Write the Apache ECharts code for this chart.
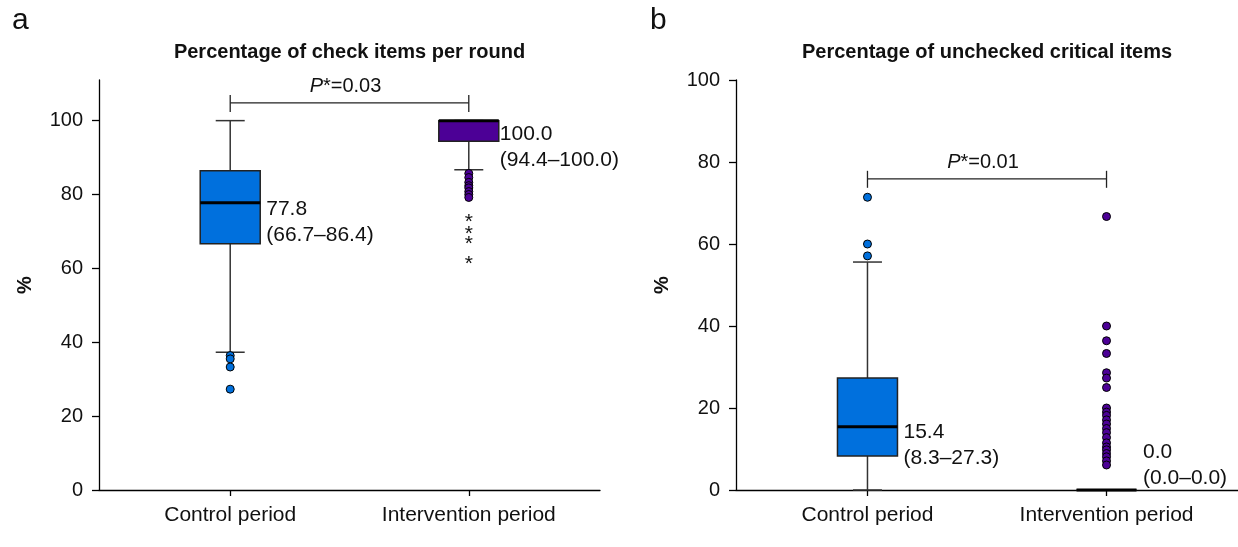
<!DOCTYPE html>
<html><head><meta charset="utf-8">
<script src="https://cdn.jsdelivr.net/npm/echarts@6/dist/echarts.min.js"></script>
<style>html,body{margin:0;padding:0;background:#fff}#c{width:1238px;height:547px}</style>
</head><body><div id="c"></div>
<script>
// ---------- DATA ----------
const categories = ['Control period', 'Intervention period'];
const yTicksA = [0, 20, 40, 60, 80, 100];
const yTicksB = [0, 20, 40, 60, 80, 100];
// box stats: [lower whisker, Q1, median, Q3, upper whisker]
const boxA_control = [37.3, 66.7, 77.8, 86.4, 100.0];
const boxA_interv  = [86.7, 94.4, 100.0, 100.0, 100.0];
const boxB_control = [0.0, 8.3, 15.4, 27.3, 55.6];
const boxB_interv  = [0.0, 0.0, 0.0, 0.0, 0.0];
// outliers (circles) and extreme values (asterisks)
const outA_control = [36.4, 35.5, 33.3, 27.3];
const outA_interv  = [85.7, 84.6, 83.3, 82.4, 81.8, 80.8, 80.0, 79.2];
const extremeA_interv = [73.7, 70.6, 67.8, 62.3];
const outB_control = [71.4, 60.0, 57.1];
const outB_interv  = [66.7, 40.0, 36.4, 33.3, 28.6, 27.3, 25.0, 20.0, 19.0, 18.2, 17.1, 16.1, 15.0, 14.0, 12.8, 11.5, 10.5, 9.8, 8.9, 8.1, 7.1, 6.1];
const labelsA = ['77.8\n(66.7–86.4)', '100.0\n(94.4–100.0)'];
const labelsB = ['15.4\n(8.3–27.3)', '0.0\n(0.0–0.0)'];
const pTexts = ['0.03', '0.01'];
const titles = ['Percentage of check items per round', 'Percentage of unchecked critical items'];
const panelLetters = ['a', 'b'];
const yName = '%';

// ---------- STYLE / LAYOUT ----------
const FONT = '"Liberation Sans", Arial, Helvetica, sans-serif';
const boxColors = ['#0070DD', '#4C0096'];
const TXT = '#111';
const bracketLevel = [104.8, 75.9];   // y-level (data units) of significance brackets
const labelDx = [6, 1, 6, 6.5];        // px from box right edge
const labelDy = [20, 27, 18, -25];     // px from median
const HW = 30, CW = 14.5;

function renderBox(params, api) {
  const x = api.value(0);
  const v = [1, 2, 3, 4, 5].map(i => api.value(i));
  const px = api.coord([x, v[2]])[0];
  const py = v.map(val => api.coord([x, val])[1]);
  const color = boxColors[api.value(6)];
  const ls = { stroke: '#333', lineWidth: 1.5 };
  return { type: 'group', children: [
    { type: 'line', shape: { x1: px, y1: py[0], x2: px, y2: py[1] }, style: ls },
    { type: 'line', shape: { x1: px, y1: py[3], x2: px, y2: py[4] }, style: ls },
    { type: 'line', shape: { x1: px - CW, y1: py[0], x2: px + CW, y2: py[0] }, style: ls },
    { type: 'line', shape: { x1: px - CW, y1: py[4], x2: px + CW, y2: py[4] }, style: ls },
    { type: 'rect', shape: { x: px - HW, y: py[3], width: 2 * HW, height: py[1] - py[3] },
      style: { fill: color, stroke: '#222', lineWidth: 1.5 } },
    { type: 'line', shape: { x1: px - HW, y1: py[2], x2: px + HW, y2: py[2] }, style: { stroke: '#000', lineWidth: 3 } }
  ]};
}
function renderLabel(params, api) {
  const x = api.value(0), med = api.value(1), idx = api.value(2);
  const c = api.coord([x, med]);
  const texts = labelsA.concat(labelsB);
  return { type: 'text', x: c[0] + HW + labelDx[idx], y: c[1] + labelDy[idx],
    style: { text: texts[idx], font: '21px ' + FONT, fill: TXT, align: 'left', verticalAlign: 'middle', lineHeight: 26 } };
}
function renderStar(params, api) {
  const c = api.coord([api.value(0), api.value(1)]);
  return { type: 'text', x: c[0], y: c[1] + 4.6,
    style: { text: '*', font: '21px ' + FONT, fill: TXT, align: 'center', verticalAlign: 'middle' } };
}
function renderBracket(params, api) {
  const a = api.coord([api.value(0), api.value(2)]);
  const b = api.coord([api.value(1), api.value(2)]);
  const idx = api.value(3);
  const ls = { stroke: '#222', lineWidth: 1.3 };
  return { type: 'group', children: [
    { type: 'line', shape: { x1: a[0], y1: a[1], x2: b[0], y2: b[1] }, style: ls },
    { type: 'line', shape: { x1: a[0], y1: a[1] - 8, x2: a[0], y2: a[1] + 9 }, style: ls },
    { type: 'line', shape: { x1: b[0], y1: b[1] - 8, x2: b[0], y2: b[1] + 9 }, style: ls },
    { type: 'text', x: (a[0] + b[0]) / 2 - 4, y: a[1] - 16,
      style: { text: '{i|P}*=' + pTexts[idx], font: '20px ' + FONT, fill: TXT, align: 'center', verticalAlign: 'middle',
        rich: { i: { fontStyle: 'italic', fontSize: 20, fontFamily: FONT, fill: TXT } } } }
  ]};
}

const axisLineStyle = { color: '#000', width: 1.3 };
function xAxisDef(gi) {
  return { type: 'value', gridIndex: gi, min: 0.45, max: 2.55,
    axisLine: { show: true, onZero: false, lineStyle: axisLineStyle },
    axisTick: { show: true, length: 6, lineStyle: axisLineStyle, customValues: [1, 2] },
    axisLabel: { customValues: [1, 2], formatter: v => categories[Math.round(v) - 1] || '',
      fontSize: 21, fontFamily: FONT, color: TXT, margin: 15 },
    splitLine: { show: false } };
}
function yAxisDef(gi, max, ticks) {
  return { type: 'value', gridIndex: gi, min: 0, max: max,
    axisLine: { show: true, lineStyle: axisLineStyle },
    axisTick: { show: true, length: 7, lineStyle: axisLineStyle, customValues: ticks },
    axisLabel: { customValues: ticks, fontSize: 20, fontFamily: FONT, color: TXT, margin: 16 },
    splitLine: { show: false } };
}
function scatter(gi, x, vals, ci) {
  return { type: 'scatter', xAxisIndex: gi, yAxisIndex: gi, data: vals.map(v => [x, v]),
    symbol: 'circle', symbolSize: 8, z: 5,
    itemStyle: { color: boxColors[ci], borderColor: '#000', borderWidth: 1, opacity: 1 } };
}

const chart = echarts.init(document.getElementById('c'), null, { renderer: 'canvas' });
chart.setOption({
  animation: false,
  backgroundColor: '#fff',
  grid: [
    { left: 99, right: 638, top: 80, bottom: 57 },
    { left: 736, right: 0, top: 80, bottom: 57 }
  ],
  xAxis: [xAxisDef(0), xAxisDef(1)],
  yAxis: [yAxisDef(0, 111, yTicksA), yAxisDef(1, 100, yTicksB)],
  graphic: [
    { type: 'text', x: 12, y: 21, style: { text: panelLetters[0], font: '30px ' + FONT, fill: TXT, verticalAlign: 'middle' } },
    { type: 'text', x: 650, y: 21, style: { text: panelLetters[1], font: '30px ' + FONT, fill: TXT, verticalAlign: 'middle' } },
    { type: 'text', x: 349.5, y: 52.3, style: { text: titles[0], font: 'bold 20px ' + FONT, fill: TXT, align: 'center', verticalAlign: 'middle' } },
    { type: 'text', x: 987, y: 52.3, style: { text: titles[1], font: 'bold 20px ' + FONT, fill: TXT, align: 'center', verticalAlign: 'middle' } },
    { type: 'text', x: 25, y: 285, rotation: Math.PI / 2, style: { text: yName, font: 'bold 20px ' + FONT, fill: TXT, align: 'center', verticalAlign: 'middle' } },
    { type: 'text', x: 662, y: 285, rotation: Math.PI / 2, style: { text: yName, font: 'bold 20px ' + FONT, fill: TXT, align: 'center', verticalAlign: 'middle' } }
  ],
  series: [
    { type: 'custom', xAxisIndex: 0, yAxisIndex: 0, renderItem: renderBox, z: 2,
      encode: { x: 0, y: [1, 5] },
      data: [[1].concat(boxA_control, [0]), [2].concat(boxA_interv, [1])] },
    { type: 'custom', xAxisIndex: 1, yAxisIndex: 1, renderItem: renderBox, z: 2,
      encode: { x: 0, y: [1, 5] },
      data: [[1].concat(boxB_control, [0]), [2].concat(boxB_interv, [1])] },
    scatter(0, 1, outA_control, 0),
    scatter(0, 2, outA_interv, 1),
    scatter(1, 1, outB_control, 0),
    scatter(1, 2, outB_interv, 1),
    { type: 'custom', xAxisIndex: 0, yAxisIndex: 0, renderItem: renderStar, z: 5,
      encode: { x: 0, y: 1 }, data: extremeA_interv.map(v => [2, v]) },
    { type: 'custom', xAxisIndex: 0, yAxisIndex: 0, renderItem: renderLabel, z: 6,
      encode: { x: 0, y: 1 }, data: [[1, boxA_control[2], 0], [2, boxA_interv[2], 1]] },
    { type: 'custom', xAxisIndex: 1, yAxisIndex: 1, renderItem: renderLabel, z: 6,
      encode: { x: 0, y: 1 }, data: [[1, boxB_control[2], 2], [2, boxB_interv[2], 3]] },
    { type: 'custom', xAxisIndex: 0, yAxisIndex: 0, renderItem: renderBracket, z: 6,
      encode: { x: [0, 1], y: 2 }, data: [[1, 2, bracketLevel[0], 0]] },
    { type: 'custom', xAxisIndex: 1, yAxisIndex: 1, renderItem: renderBracket, z: 6,
      encode: { x: [0, 1], y: 2 }, data: [[1, 2, bracketLevel[1], 1]] }
  ]
});
</script></body></html>
